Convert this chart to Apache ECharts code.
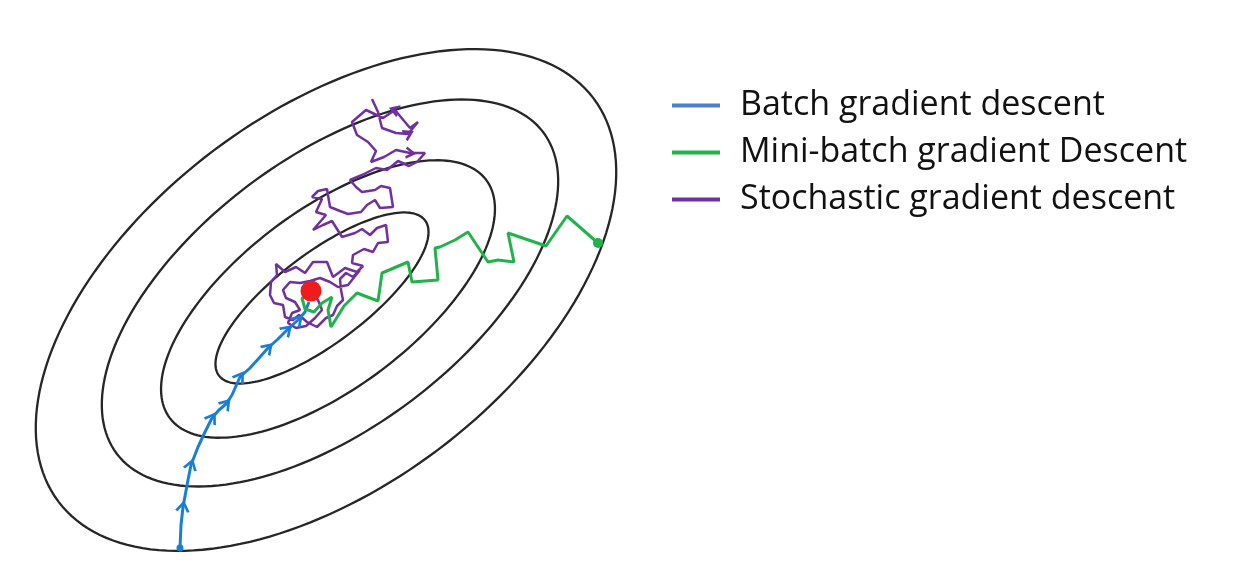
<!DOCTYPE html>
<html>
<head>
<meta charset="utf-8">
<script src="https://cdn.jsdelivr.net/npm/echarts@6/dist/echarts.min.js"></script>
<style>
  html, body { margin: 0; padding: 0; background: #fff; }
  #main { width: 1235px; height: 585px; }
</style>
</head>
<body>
<div id="main"></div>
<script>
// contour ellipses, outer to inner (centre, semi axes, tilt in degrees)
const ellipseCx = [326, 330, 328, 322];
const ellipseCy = [300, 293, 299, 298];
const ellipseA = [335, 267, 198, 129];
const ellipseB = [187, 135, 89, 45];
const ellipseTilt = [37, 37, 37, 37];

// batch gradient descent path
const batchX = [180, 181, 183, 188, 191, 198, 205, 212, 219, 226, 232, 240, 250, 260, 268, 278, 287, 298, 305, 309];
const batchY = [548, 525, 507, 480, 465, 447, 432, 418, 410, 404, 395, 377, 368, 357, 348, 339, 330, 320, 312, 302];
const batchArrows = [2, 4, 7, 9, 11, 14, 16, 17];

// mini-batch gradient descent path
const miniX = [598, 567, 546, 508, 514, 498, 488, 468, 455, 440, 435, 438, 412, 408, 382, 378, 357, 344, 331, 328, 332, 322, 314, 305, 302, 310];
const miniY = [243, 216, 246, 233, 262, 260, 262, 232, 240, 247, 248, 280, 282, 262, 273, 301, 293, 306, 327, 310, 297, 303, 312, 309, 298, 296];

// stochastic gradient descent path
const sgdX = [372, 378, 382, 396, 408, 418, 410, 395, 383, 366, 352, 357, 368, 376, 371, 384, 396, 410, 425, 417, 409, 398, 387, 376, 362, 350,
  356, 362, 375, 381, 390, 393, 380, 375, 367, 361, 348, 340, 330, 327, 318, 312, 322, 316, 326, 313, 323, 332, 337, 342,
  355, 362, 370, 377, 386, 388, 378, 373, 364, 353, 352, 363, 357, 345, 333, 327, 313, 305, 296, 285, 276, 277, 271, 270,
  274, 283, 285, 293, 299, 307, 317, 326, 333, 337, 343, 341, 340, 346, 353, 360, 348, 338, 330, 320, 310, 300, 290, 283,
  286, 295, 300, 292, 288, 296, 306, 315, 322, 318, 310];
const sgdY = [99, 112, 128, 133, 134, 122, 128, 110, 118, 110, 122, 135, 142, 151, 162, 157, 150, 153, 153, 162, 166, 161, 170, 168, 175, 180,
  187, 192, 190, 186, 188, 207, 208, 200, 205, 212, 214, 211, 207, 189, 191, 197, 199, 212, 215, 230, 225, 221, 229, 237,
  233, 229, 235, 228, 225, 242, 243, 252, 249, 255, 263, 266, 272, 268, 277, 262, 262, 273, 267, 272, 264, 275, 282, 295,
  303, 305, 317, 320, 315, 322, 327, 318, 315, 306, 300, 290, 279, 273, 277, 270, 285, 287, 282, 278, 281, 283, 282, 290,
  298, 302, 310, 313, 323, 328, 326, 318, 310, 300, 296];
const sgdArrows = [4, 7, 17];

const minimum = [311, 291];

const seriesNames = ['Batch gradient descent', 'Mini-batch gradient Descent', 'Stochastic gradient descent'];
const legendColors = ['#4f7fcf', '#22b24c', '#7030a0'];

const chevron = 'path://M0,8 L5,0 L10,8';

function zip(xs, ys) {
  return xs.map((x, i) => [x, ys[i]]);
}

// build line data, putting an open chevron on the marked points
function pathData(pts, arrows, color, startDot) {
  return pts.map((p, i) => {
    if (i === 0 && startDot) {
      return { value: p, symbol: 'circle', symbolSize: startDot, itemStyle: { color: color, borderWidth: 0 } };
    }
    if (arrows.indexOf(i) >= 0) {
      return { value: p, symbol: chevron };
    }
    return { value: p, symbol: 'none' };
  });
}

// turn the chevron along the walking direction
function rotateAlong(pts) {
  return function (value, params) {
    const i = params.dataIndex;
    const a = pts[Math.max(i - 1, 0)];
    const b = pts[Math.min(i + 1, pts.length - 1)];
    const dx = b[0] - a[0];
    const dy = b[1] - a[1];
    return Math.atan2(-dx, -dy) * 180 / Math.PI;
  };
}

const batchPts = zip(batchX, batchY);
const miniPts = zip(miniX, miniY);
const sgdPts = zip(sgdX, sgdY);

const myChart = echarts.init(document.getElementById('main'));

const option = {
  animation: false,
  backgroundColor: '#fff',
  grid: { left: 0, right: 0, top: 0, bottom: 0 },
  xAxis: { type: 'value', min: 0, max: 1235, show: false },
  yAxis: { type: 'value', min: 0, max: 585, inverse: true, show: false },
  legend: {
    data: seriesNames.map((n, i) => ({ name: n, itemStyle: { color: legendColors[i], borderWidth: 0 } })),
    orient: 'vertical',
    left: 667,
    top: 80,
    icon: 'rect',
    itemWidth: 48,
    itemHeight: 4,
    itemGap: 6,
    selectedMode: false,
    textStyle: {
      fontFamily: 'Open Sans',
      fontSize: 34,
      color: '#111',
      lineHeight: 41,
      padding: [0, 0, 0, 15]
    }
  },
  series: [
    {
      type: 'custom',
      silent: true,
      data: ellipseCx.map((c, i) => [c, ellipseCy[i], ellipseA[i], ellipseB[i], ellipseTilt[i]]),
      renderItem: function (params, api) {
        const cx = api.value(0), cy = api.value(1);
        const a = api.value(2), b = api.value(3);
        const t = api.value(4) * Math.PI / 180;
        const points = [];
        for (let k = 0; k <= 180; k++) {
          const s = k / 180 * Math.PI * 2;
          const x = cx + a * Math.cos(s) * Math.cos(t) - b * Math.sin(s) * Math.sin(t);
          const y = cy - (a * Math.cos(s) * Math.sin(t) + b * Math.sin(s) * Math.cos(t));
          points.push(api.coord([x, y]));
        }
        return {
          type: 'polygon',
          shape: { points: points },
          style: { fill: 'none', stroke: '#262626', lineWidth: 2.3 }
        };
      },
      z: 1
    },
    {
      name: seriesNames[2],
      type: 'line',
      data: pathData(sgdPts, sgdArrows),
      showAllSymbol: true,
      symbolSize: [10, 8],
      symbolRotate: rotateAlong(sgdPts),
      lineStyle: { color: '#7030a0', width: 2.5 },
      itemStyle: { color: 'rgba(0,0,0,0)', borderColor: '#7030a0', borderWidth: 2.5 },
      z: 2
    },
    {
      name: seriesNames[0],
      type: 'line',
      data: pathData(batchPts, batchArrows, '#1a7fd4', 7),
      showAllSymbol: true,
      symbolSize: [12, 9],
      symbolRotate: rotateAlong(batchPts),
      lineStyle: { color: '#1a7fd4', width: 3 },
      itemStyle: { color: 'rgba(0,0,0,0)', borderColor: '#1a7fd4', borderWidth: 2.5 },
      z: 3
    },
    {
      name: seriesNames[1],
      type: 'line',
      data: pathData(miniPts, [], '#22b24c', 10),
      showAllSymbol: true,
      lineStyle: { color: '#22b24c', width: 3 },
      itemStyle: { color: 'rgba(0,0,0,0)' },
      z: 4
    },
    {
      type: 'scatter',
      data: [minimum],
      symbolSize: 21,
      itemStyle: { color: '#ee1c1c', opacity: 1 },
      z: 5
    }
  ]
};

myChart.setOption(option);
</script>
</body>
</html>
